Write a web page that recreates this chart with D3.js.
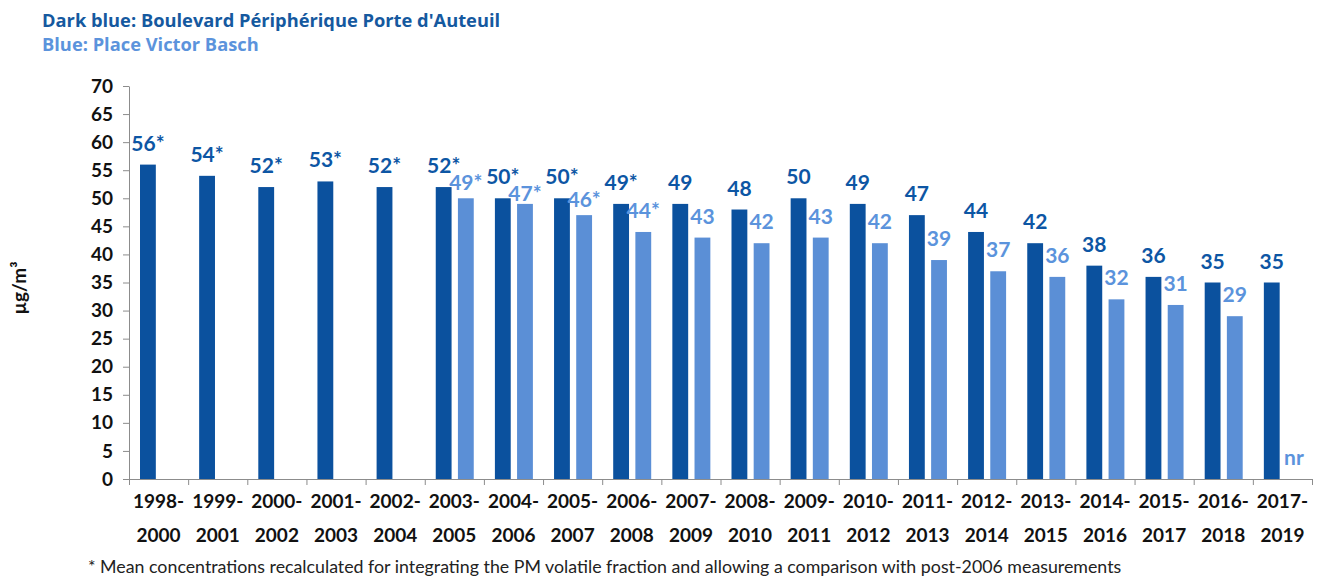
<!DOCTYPE html>
<html>
<head>
<meta charset="utf-8">
<script src="https://cdn.jsdelivr.net/npm/d3@7"></script>
<style>
  body { margin: 0; background: #fff; }
  svg { display: block; font-family: Lato, "Open Sans", sans-serif; }
</style>
</head>
<body>
<div id="chart"></div>
<script>
var periods = ["1998-2000", "1999-2001", "2000-2002", "2001-2003", "2002-2004", "2003-2005", "2004-2006",
    "2005-2007", "2006-2008", "2007-2009", "2008-2010", "2009-2011", "2010-2012", "2011-2013",
    "2012-2014", "2013-2015", "2014-2016", "2015-2017", "2016-2018", "2017-2019"];

// Boulevard Périphérique Porte d'Auteuil
var darkValues = [56, 54, 52, 53, 52, 52, 50, 50, 49, 49, 48, 50, 49, 47, 44, 42, 38, 36, 35, 35];
var darkLabels = ["56*", "54*", "52*", "53*", "52*", "52*", "50*", "50*", "49*", "49", "48", "50", "49", "47",
    "44", "42", "38", "36", "35", "35"];

// Place Victor Basch (bar heights and printed labels differ on the starred years)
var lightValues = [null, null, null, null, null, 50, 49, 47, 44, 43, 42, 43, 42, 39, 37, 36, 32, 31, 29, 0];
var lightLabelValues = [null, null, null, null, null, 49, 47, 46, 44, 43, 42, 43, 42, 39, 37, 36, 32, 31, 29, 0];
var lightLabels = [null, null, null, null, null, "49*", "47*", "46*", "44*", "43", "42", "43", "42", "39",
    "37", "36", "32", "31", "29", "nr"];

var yTicks = [0, 5, 10, 15, 20, 25, 30, 35, 40, 45, 50, 55, 60, 65, 70];

var W = 1324, H = 577;
var darkColor = "#0b519e", lightColor = "#5b8fd6";
var darkText = "#0d56a4", lightText = "#5b93dc";

var svg = d3.select("#chart").append("svg")
    .attr("width", W)
    .attr("height", H);

var plotLeft = 129, plotRight = 1312, plotTop = 86, plotBottom = 479;

var x0 = d3.scaleBand().domain(periods).range([plotLeft, plotRight]).padding(0);
var x1 = d3.scaleBand().domain(["dark", "light"]).range([11, 49]).paddingInner(0.286);
var y = d3.scaleLinear().domain([0, 70]).range([plotBottom, plotTop]);

// titles
svg.append("text")
    .attr("x", 42).attr("y", 27)
    .attr("fill", "#15599f")
    .style("font-family", "'Open Sans', sans-serif")
    .style("font-size", "18.3px").style("font-weight", "bold")
    .text("Dark blue: Boulevard Périphérique Porte d'Auteuil");

svg.append("text")
    .attr("x", 42).attr("y", 51)
    .attr("fill", "#5b93dc")
    .style("font-family", "'Open Sans', sans-serif")
    .style("font-size", "18.3px").style("font-weight", "bold")
    .text("Blue: Place Victor Basch");

// y axis
var yAxis = svg.append("g")
    .attr("transform", "translate(" + plotLeft + ",0)")
    .call(d3.axisLeft(y).tickValues(yTicks).tickSize(6).tickSizeOuter(0).tickPadding(10));
yAxis.selectAll("text")
    .style("font-size", "19px").style("font-weight", "bold").attr("fill", "#111")
    .style("font-family", "Lato, 'Open Sans', sans-serif");
yAxis.selectAll("line, path").attr("stroke", "#8c8c8c");

svg.append("text")
    .attr("transform", "translate(26,288) rotate(-90)")
    .attr("text-anchor", "middle")
    .style("font-size", "19px").style("font-weight", "bold")
    .attr("fill", "#111")
    .text("µg/m³");

// bars
var groups = svg.selectAll(".group")
    .data(periods)
    .enter()
    .append("g")
    .attr("class", "group")
    .attr("transform", function(d) { return "translate(" + x0(d) + ",0)"; });

groups.append("rect")
    .attr("x", x1("dark"))
    .attr("width", x1.bandwidth())
    .attr("y", function(d, i) { return y(darkValues[i]); })
    .attr("height", function(d, i) { return y(0) - y(darkValues[i]); })
    .attr("fill", darkColor);

groups.filter(function(d, i) { return lightValues[i] !== null; })
    .append("rect")
    .attr("x", x1("light"))
    .attr("width", x1.bandwidth())
    .attr("y", function(d) { return y(lightValues[periods.indexOf(d)]); })
    .attr("height", function(d) { return y(0) - y(lightValues[periods.indexOf(d)]); })
    .attr("fill", lightColor);

// x axis: ticks on category boundaries
var xb = d3.scaleLinear().domain([0, periods.length]).range([plotLeft, plotRight]);
var xAxis = svg.append("g")
    .attr("transform", "translate(0," + plotBottom + ")")
    .call(d3.axisBottom(xb).tickValues(d3.range(0, periods.length + 1)).tickSize(6).tickSizeOuter(0).tickFormat(""));
xAxis.selectAll("line, path").attr("stroke", "#8c8c8c");

// category labels (two lines)
var cat = svg.selectAll(".cat")
    .data(periods)
    .enter()
    .append("text")
    .attr("class", "cat")
    .attr("text-anchor", "middle")
    .style("font-size", "19px").style("font-weight", "bold")
    .attr("fill", "#111");
cat.append("tspan")
    .attr("x", function(d) { return x0(d) + x0.bandwidth() / 2; })
    .attr("y", 508)
    .text(function(d) { return d.split("-")[0] + "-"; });
cat.append("tspan")
    .attr("x", function(d) { return x0(d) + x0.bandwidth() / 2; })
    .attr("y", 542)
    .text(function(d) { return d.split("-")[1]; });

// value labels
groups.filter(function(d, i) { return lightLabels[i] !== null; })
    .append("text")
    .attr("x", x1("light") + x1.bandwidth() / 2)
    .attr("y", function(d) { return y(lightLabelValues[periods.indexOf(d)]) - 14; })
    .attr("text-anchor", "middle")
    .attr("fill", lightText)
    .style("font-size", "21px").style("font-weight", "bold")
    .text(function(d) { return lightLabels[periods.indexOf(d)]; });

groups.append("text")
    .attr("x", x1("dark") + x1.bandwidth() / 2)
    .attr("y", function(d, i) { return y(darkValues[i]) - 14; })
    .attr("text-anchor", "middle")
    .attr("fill", darkText)
    .style("font-size", "21px").style("font-weight", "bold")
    .text(function(d, i) { return darkLabels[i]; });

// footnote
svg.append("text")
    .attr("x", 88).attr("y", 573)
    .attr("fill", "#222")
    .style("font-size", "17.8px")
    .text("* Mean concentrations recalculated for integrating the PM volatile fraction and allowing a comparison with post-2006 measurements");
</script>
</body>
</html>
